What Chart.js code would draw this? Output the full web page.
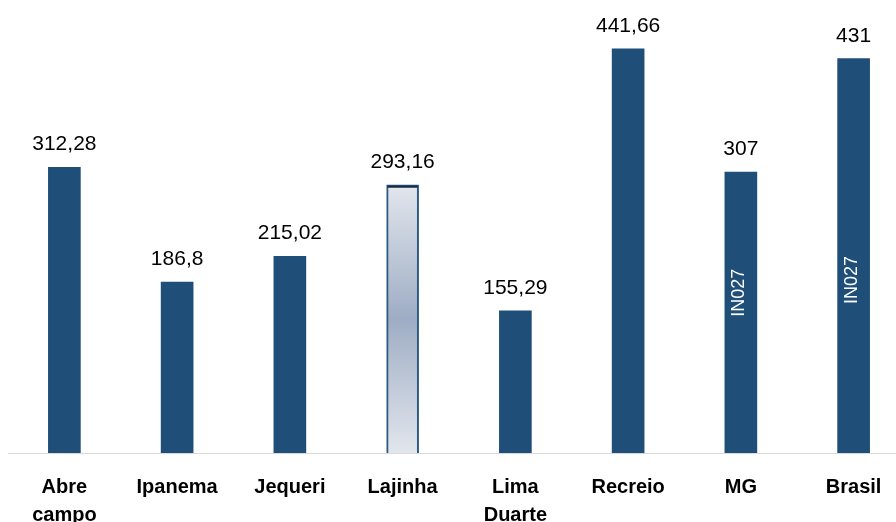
<!DOCTYPE html>
<html>
<head>
<meta charset="utf-8">
<script src="https://cdn.jsdelivr.net/npm/chart.js@4/dist/chart.umd.min.js"></script>
<style>
	html, body { margin: 0; padding: 0; background: #fff; overflow: hidden; }
	#wrap { position: relative; width: 910px; height: 549px; }
</style>
</head>
<body>
<div id="wrap"><canvas id="chart"></canvas></div>
<script>
var categories = [['Abre', 'campo'], 'Ipanema', 'Jequeri', 'Lajinha', ['Lima', 'Duarte'], 'Recreio', 'MG', 'Brasil'];
var values = [312.28, 186.8, 215.02, 293.16, 155.29, 441.66, 307, 431];
var valueLabels = ['312,28', '186,8', '215,02', '293,16', '155,29', '441,66', '307', '431'];
var innerLabels = ['', '', '', '', '', '', 'IN027', 'IN027'];
var innerLabelAt = [0, 0, 0, 0, 0, 0, 175, 189];

var BLUE = '#1f4e79';
var highlight = 3; // Lajinha is drawn with the light gradient

var labelsPlugin = {
	id: 'valueLabels',
	afterDatasetsDraw: function (chart) {
		var ctx = chart.ctx,
			meta = chart.getDatasetMeta(0),
			y = chart.scales.y;
		ctx.save();
		// darker top edge on the gradient bar
		var hb = meta.data[highlight];
		ctx.fillStyle = '#16283c';
		ctx.fillRect(hb.x - 15, hb.y + 1, 30, 2);

		ctx.textAlign = 'center';
		ctx.textBaseline = 'alphabetic';
		ctx.fillStyle = '#000';
		ctx.font = '21px "Liberation Sans", Arial, sans-serif';
		meta.data.forEach(function (bar, i) {
			ctx.fillText(valueLabels[i], bar.x, bar.y - 17);
		});
		ctx.fillStyle = '#fff';
		ctx.font = '18px "Liberation Sans", Arial, sans-serif';
		ctx.textBaseline = 'middle';
		meta.data.forEach(function (bar, i) {
			if (!innerLabels[i]) return;
			ctx.save();
			ctx.translate(bar.x - 2, y.getPixelForValue(innerLabelAt[i]));
			ctx.rotate(-Math.PI / 2);
			ctx.fillText(innerLabels[i], 0, 0);
			ctx.restore();
		});
		ctx.restore();
	}
};

function barFill(context) {
	if (context.dataIndex !== highlight) return BLUE;
	var chart = context.chart, area = chart.chartArea, y = chart.scales.y;
	if (!area || !y) return '#c5cedb';
	var top = y.getPixelForValue(values[highlight]);
	if (!isFinite(top) || !isFinite(area.bottom)) return '#c5cedb';
	var g = chart.ctx.createLinearGradient(0, top, 0, area.bottom);
	g.addColorStop(0, '#e2e6ed');
	g.addColorStop(0.5, '#9eadc4');
	g.addColorStop(1, '#e2e6ed');
	return g;
}

new Chart(document.getElementById('chart'), {
	type: 'bar',
	data: {
		labels: categories,
		datasets: [{
			data: values,
			backgroundColor: barFill,
			borderColor: function (c) { return c.dataIndex === highlight ? '#2b5887' : BLUE; },
			borderWidth: function (c) { return c.dataIndex === highlight ? { top: 2, left: 2, right: 2, bottom: 0 } : 0; },
			borderSkipped: 'bottom',
			barThickness: 32
		}]
	},
	options: {
		responsive: true,
		maintainAspectRatio: false,
		animation: false,
		layout: { padding: { left: 8, right: 0, top: 0, bottom: 0 } },
		plugins: {
			legend: { display: false },
			tooltip: { enabled: false }
		},
		scales: {
			x: {
				grid: { display: false, drawTicks: false },
				border: { display: true, color: '#d9d9d9', width: 1 },
				ticks: {
					color: '#000',
					padding: 20,
					maxRotation: 0,
					autoSkip: false,
					font: { family: '"Liberation Sans", Arial, sans-serif', size: 20, weight: 'bold', lineHeight: 1.4 }
				}
			},
			y: {
				display: false,
				min: 0,
				max: 495
			}
		}
	},
	plugins: [labelsPlugin]
});
</script>
</body>
</html>
